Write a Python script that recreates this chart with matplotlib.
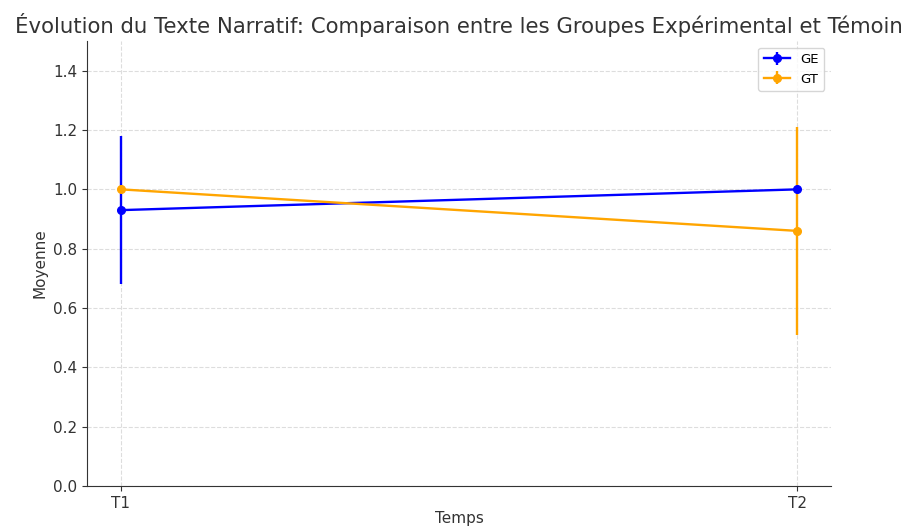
import matplotlib.pyplot as plt

temps = ["T1", "T2"]
ge_moy = [0.93, 1.00]
ge_err = [0.25, 0.0]
gt_moy = [1.00, 0.86]
gt_err = [0.0, 0.35]

fig = plt.figure(figsize=(9.09, 5.26), dpi=100)
ax = fig.add_axes([0.0957, 0.076, 0.8185, 0.846])

x = range(len(temps))
ax.errorbar(x, ge_moy, yerr=ge_err, fmt="-o", color="blue", label="GE",
            linewidth=1.7, markersize=5.5, capsize=0)
ax.errorbar(x, gt_moy, yerr=gt_err, fmt="-o", color="orange", label="GT",
            linewidth=1.7, markersize=5.5, capsize=0)

ax.set_xticks(list(x))
ax.set_xticklabels(temps)
ax.set_ylim(0, 1.5)
ax.set_yticks([0.0, 0.2, 0.4, 0.6, 0.8, 1.0, 1.2, 1.4])
ax.tick_params(labelsize=11, colors="#333333")
ax.set_xlabel("Temps", fontsize=11, color="#333333", labelpad=0)
ax.set_ylabel("Moyenne", fontsize=11, color="#333333")
ax.set_title("Évolution du Texte Narratif: Comparaison entre les Groupes Expérimental et Témoin",
             fontsize=15.3, color="#333333")
ax.grid(True, linestyle="--", color="#dddddd", linewidth=0.8)
ax.set_axisbelow(True)
for s in ["top", "right"]:
    ax.spines[s].set_visible(False)
for s in ["left", "bottom"]:
    ax.spines[s].set_color("#333333")
ax.legend(fontsize=9.5, loc="upper right")

fig.savefig("out.png", dpi=100)
